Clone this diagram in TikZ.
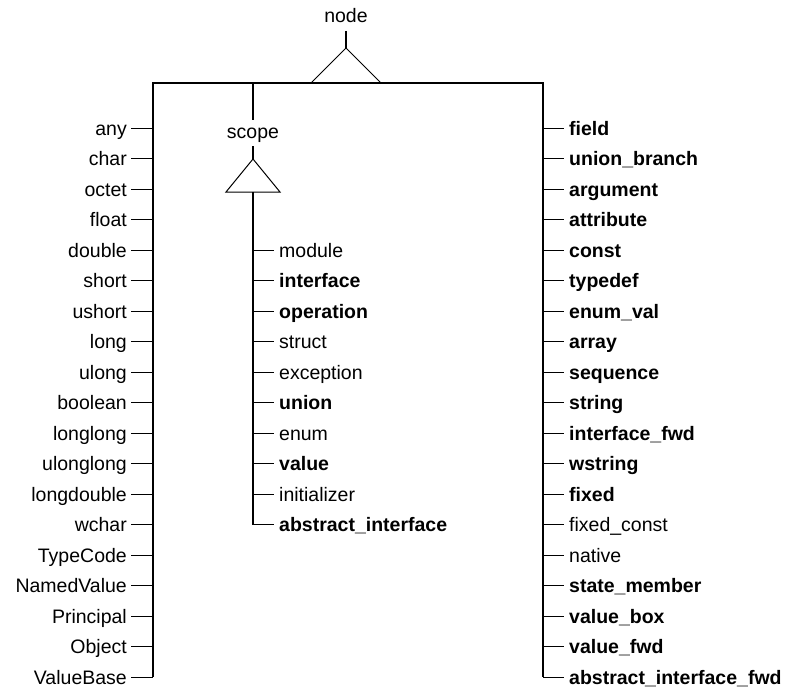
\documentclass[tikz,border=0pt]{standalone}
\usepackage{fontspec}
\setmainfont{Liberation Sans}

\begin{document}
\begin{tikzpicture}[x=1pt,y=-1pt,
	lbl/.style={font=\fontsize{19.5}{22}\selectfont,text height=14pt,text depth=0pt,inner xsep=4pt,inner ysep=0pt},
	lt/.style={lbl,anchor=east},
	rt/.style={lbl,anchor=west,inner xsep=5pt},
	head/.style={lbl,anchor=base,text depth=4pt,inner ysep=4pt},
	bus/.style={line width=2pt},
	tick/.style={line width=1pt}]
			\useasboundingbox (0,0) rectangle (788,688);
			% node and its triangle
			\node[head] (top) at (346,22.7) {node};
			\coordinate (topapex) at (346,48);
			\draw[bus] (top) -- (topapex);
			\draw[tick] (topapex) -- ++(-35,35) -- ++(70,0) -- cycle;
			\coordinate (lbus) at (153,677);
			\coordinate (rbus) at (543,677);
			\draw[bus] (lbus) -- ++(0,-594) -| (rbus);
			% scope and its triangle
			\coordinate (scopestem) at (253,83);
			\node[head] (scope) at (253,138) {scope};
			\coordinate (scopeapex) at (253,159);
			\coordinate (scopebase) at (253,192);
			\coordinate (mbus) at (253,524.5);
			\draw[bus] (scopestem) -- (scope);
			\draw[bus] (scope) -- (scopeapex);
			\draw[tick] (scopeapex) -- ++(-27,33) -- ++(54,0) -- cycle;
			\draw[bus] (scopebase) -- (mbus);
			% left column
			\node[lt] (any) at (131,128) {any};
			\node[lt] (char) at (131,158.5) {char};
			\node[lt] (octet) at (131,189) {octet};
			\node[lt] (float) at (131,219.5) {float};
			\node[lt] (double) at (131,250) {double};
			\node[lt] (short) at (131,280.5) {short};
			\node[lt] (ushort) at (131,311) {ushort};
			\node[lt] (long) at (131,341.5) {long};
			\node[lt] (ulong) at (131,372) {ulong};
			\node[lt] (boolean) at (131,402.5) {boolean};
			\node[lt] (longlong) at (131,433) {longlong};
			\node[lt] (ulonglong) at (131,463.5) {ulonglong};
			\node[lt] (longdouble) at (131,494) {longdouble};
			\node[lt] (wchar) at (131,524.5) {wchar};
			\node[lt] (typecode) at (131,555) {TypeCode};
			\node[lt] (namedvalue) at (131,585.5) {NamedValue};
			\node[lt] (principal) at (131,616) {Principal};
			\node[lt] (object) at (131,646.5) {Object};
			\node[lt] (valuebase) at (131,677) {ValueBase};
			\draw[tick] (any) -- (any -| lbus);
			\draw[tick] (char) -- (char -| lbus);
			\draw[tick] (octet) -- (octet -| lbus);
			\draw[tick] (float) -- (float -| lbus);
			\draw[tick] (double) -- (double -| lbus);
			\draw[tick] (short) -- (short -| lbus);
			\draw[tick] (ushort) -- (ushort -| lbus);
			\draw[tick] (long) -- (long -| lbus);
			\draw[tick] (ulong) -- (ulong -| lbus);
			\draw[tick] (boolean) -- (boolean -| lbus);
			\draw[tick] (longlong) -- (longlong -| lbus);
			\draw[tick] (ulonglong) -- (ulonglong -| lbus);
			\draw[tick] (longdouble) -- (longdouble -| lbus);
			\draw[tick] (wchar) -- (wchar -| lbus);
			\draw[tick] (typecode) -- (typecode -| lbus);
			\draw[tick] (namedvalue) -- (namedvalue -| lbus);
			\draw[tick] (principal) -- (principal -| lbus);
			\draw[tick] (object) -- (object -| lbus);
			\draw[tick] (valuebase) -- (valuebase -| lbus);
			% middle column
			\node[rt] (module) at (274,250) {module};
			\node[rt] (interface) at (274,280.5) {\textbf{interface}};
			\node[rt] (operation) at (274,311) {\textbf{operation}};
			\node[rt] (struct) at (274,341.5) {struct};
			\node[rt] (exception) at (274,372) {exception};
			\node[rt] (union) at (274,402.5) {\textbf{union}};
			\node[rt] (enum) at (274,433) {enum};
			\node[rt] (value) at (274,463.5) {\textbf{value}};
			\node[rt] (initializer) at (274,494) {initializer};
			\node[rt] (abstractinterface) at (274,524.5) {\textbf{abstract\_interface}};
			\draw[tick] (module -| mbus) -- (module);
			\draw[tick] (interface -| mbus) -- (interface);
			\draw[tick] (operation -| mbus) -- (operation);
			\draw[tick] (struct -| mbus) -- (struct);
			\draw[tick] (exception -| mbus) -- (exception);
			\draw[tick] (union -| mbus) -- (union);
			\draw[tick] (enum -| mbus) -- (enum);
			\draw[tick] (value -| mbus) -- (value);
			\draw[tick] (initializer -| mbus) -- (initializer);
			\draw[tick] (abstractinterface -| mbus) -- (abstractinterface);
			% right column
			\node[rt] (field) at (564,128) {\textbf{field}};
			\node[rt] (unionbranch) at (564,158.5) {\textbf{union\_branch}};
			\node[rt] (argument) at (564,189) {\textbf{argument}};
			\node[rt] (attribute) at (564,219.5) {\textbf{attribute}};
			\node[rt] (const) at (564,250) {\textbf{const}};
			\node[rt] (typedef) at (564,280.5) {\textbf{typedef}};
			\node[rt] (enumval) at (564,311) {\textbf{enum\_val}};
			\node[rt] (array) at (564,341.5) {\textbf{array}};
			\node[rt] (sequence) at (564,372) {\textbf{sequence}};
			\node[rt] (string) at (564,402.5) {\textbf{string}};
			\node[rt] (interfacefwd) at (564,433) {\textbf{interface\_fwd}};
			\node[rt] (wstring) at (564,463.5) {\textbf{wstring}};
			\node[rt] (fixed) at (564,494) {\textbf{fixed}};
			\node[rt] (fixedconst) at (564,524.5) {fixed\_const};
			\node[rt] (native) at (564,555) {native};
			\node[rt] (statemember) at (564,585.5) {\textbf{state\_member}};
			\node[rt] (valuebox) at (564,616) {\textbf{value\_box}};
			\node[rt] (valuefwd) at (564,646.5) {\textbf{value\_fwd}};
			\node[rt] (abstractinterfacefwd) at (564,677) {\textbf{abstract\_interface\_fwd}};
			\draw[tick] (field -| rbus) -- (field);
			\draw[tick] (unionbranch -| rbus) -- (unionbranch);
			\draw[tick] (argument -| rbus) -- (argument);
			\draw[tick] (attribute -| rbus) -- (attribute);
			\draw[tick] (const -| rbus) -- (const);
			\draw[tick] (typedef -| rbus) -- (typedef);
			\draw[tick] (enumval -| rbus) -- (enumval);
			\draw[tick] (array -| rbus) -- (array);
			\draw[tick] (sequence -| rbus) -- (sequence);
			\draw[tick] (string -| rbus) -- (string);
			\draw[tick] (interfacefwd -| rbus) -- (interfacefwd);
			\draw[tick] (wstring -| rbus) -- (wstring);
			\draw[tick] (fixed -| rbus) -- (fixed);
			\draw[tick] (fixedconst -| rbus) -- (fixedconst);
			\draw[tick] (native -| rbus) -- (native);
			\draw[tick] (statemember -| rbus) -- (statemember);
			\draw[tick] (valuebox -| rbus) -- (valuebox);
			\draw[tick] (valuefwd -| rbus) -- (valuefwd);
			\draw[tick] (abstractinterfacefwd -| rbus) -- (abstractinterfacefwd);
		\end{tikzpicture}
\end{document}
